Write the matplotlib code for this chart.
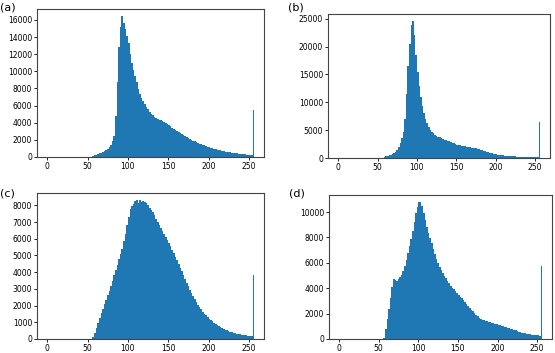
import matplotlib
matplotlib.use("Agg")
import matplotlib.pyplot as plt
import numpy as np

# counts per grey level, bins of 2 levels starting at 54 (last bin 254), then the 255 spike
bin_start = 54
bin_width = 2

counts_a = [0, 60, 180, 260, 340, 420, 500, 590, 700, 820,
            980, 1180, 1450, 1850, 2500, 4800, 8800, 12800, 15200, 16450,
            15600, 14900, 14100, 13300, 12000, 11000, 10200, 9500, 8700, 7900,
            7300, 6900, 6500, 6150, 5850, 5550, 5300, 5050, 4850, 4700,
            4580, 4470, 4370, 4270, 4170, 4060, 3950, 3830, 3700, 3570,
            3430, 3300, 3170, 3040, 2910, 2790, 2670, 2550, 2430, 2320,
            2210, 2110, 2010, 1910, 1820, 1730, 1650, 1570, 1490, 1420,
            1350, 1280, 1210, 1150, 1090, 1030, 970, 910, 860, 810,
            760, 720, 680, 640, 600, 565, 530, 500, 470, 440,
            410, 385, 360, 340, 320, 300, 285, 270, 255, 240,
            230]
spike_a = 5500

counts_b = [0, 60, 200, 280, 370, 470, 580, 700, 880, 1150,
            1500, 2000, 2700, 3500, 4600, 7000, 11500, 16500, 20500, 23800,
            24600, 22000, 18500, 15500, 13000, 11000, 9300, 8000, 7000, 6200,
            5550, 5000, 4650, 4400, 4180, 4000, 3830, 3680, 3540, 3410,
            3290, 3180, 3070, 2960, 2850, 2740, 2630, 2520, 2420, 2330,
            2270, 2200, 2130, 2070, 2010, 1960, 1910, 1860, 1810, 1760,
            1710, 1650, 1580, 1500, 1410, 1320, 1220, 1120, 1020, 920,
            840, 770, 710, 650, 600, 550, 505, 465, 430, 400,
            375, 350, 330, 310, 295, 280, 265, 252, 240, 230,
            220, 212, 205, 198, 192, 186, 180, 175, 170, 165,
            160]
spike_b = 6400

counts_c = [0, 90, 380, 670, 960, 1250, 1530, 1800, 2080, 2350,
            2610, 2870, 3160, 3480, 3800, 4120, 4440, 4760, 5080, 5400,
            5880, 6300, 6830, 7300, 7750, 7980, 8100, 8250, 8300, 8150,
            8320, 8200, 8280, 8200, 8120, 8000, 7850, 7700, 7600, 7400,
            7200, 7020, 6840, 6660, 6480, 6300, 6120, 5930, 5740, 5540,
            5340, 5130, 4920, 4700, 4480, 4260, 4040, 3820, 3600, 3380,
            3170, 2960, 2760, 2570, 2390, 2220, 2060, 1910, 1770, 1640,
            1520, 1410, 1310, 1220, 1130, 1050, 970, 900, 830, 770,
            710, 650, 600, 550, 510, 470, 430, 400, 370, 340,
            315, 295, 275, 255, 240, 225, 210, 195, 180, 165,
            150]
spike_c = 3830

counts_d = [0, 100, 800, 1600, 2350, 3200, 4100, 4750, 4650, 4600,
            4700, 4850, 5050, 5350, 5750, 6250, 6750, 7300, 7850, 8500,
            9200, 9900, 10400, 10750, 10800, 10500, 9950, 9350, 8800, 8350,
            7950, 7550, 7100, 6700, 6300, 5950, 5650, 5420, 5200, 5000,
            4780, 4570, 4380, 4200, 4040, 3900, 3760, 3620, 3480, 3340,
            3200, 3060, 2920, 2770, 2620, 2470, 2320, 2180, 2040, 1900,
            1780, 1670, 1590, 1530, 1480, 1440, 1400, 1360, 1320, 1290,
            1250, 1220, 1180, 1140, 1100, 1060, 1010, 970, 930, 890,
            850, 810, 770, 730, 690, 640, 590, 550, 510, 475,
            445, 415, 390, 365, 345, 330, 315, 300, 285, 270,
            260]
spike_d = 5760

panel_labels = ["(a)", "(b)", "(c)", "(d)"]
x_ticks = [0, 50, 100, 150, 200, 250]

W, H = 555, 353
# axes boxes in pixels: left, top, right, bottom
boxes = [(37, 9, 264, 157), (328, 14, 550, 158),
         (37, 193, 264, 339), (329, 195, 552, 339)]
label_pos = [(0, 2), (288, 3), (0, 188), (289, 188)]


def draw_panel(ax, counts, spike):
    n = len(counts)
    edges = np.r_[bin_start + bin_width * np.arange(n), 255, 256]
    vals = np.r_[counts, spike]
    ax.stairs(vals, edges, fill=True, color="#1f77b4", linewidth=0)
    ax.set_xlim(-12.8, 268.8)
    ax.set_xticks(x_ticks)
    ax.tick_params(labelsize=5.5, length=2, width=0.6, pad=1.5)
    for s in ax.spines.values():
        s.set_linewidth(0.8)
        s.set_color("#444444")


fig = plt.figure(figsize=(W / 100, H / 100), dpi=100)
data = [(counts_a, spike_a), (counts_b, spike_b), (counts_c, spike_c), (counts_d, spike_d)]
for (l, t, r, b), (cnt, sp), lab, (lx, ly) in zip(boxes, data, panel_labels, label_pos):
    ax = fig.add_axes([l / W, 1 - b / H, (r - l) / W, (b - t) / H])
    draw_panel(ax, cnt, sp)
    fig.text(lx / W, 1 - ly / H, lab, fontsize=8, va="top", ha="left")

fig.savefig("out.png", dpi=100)
